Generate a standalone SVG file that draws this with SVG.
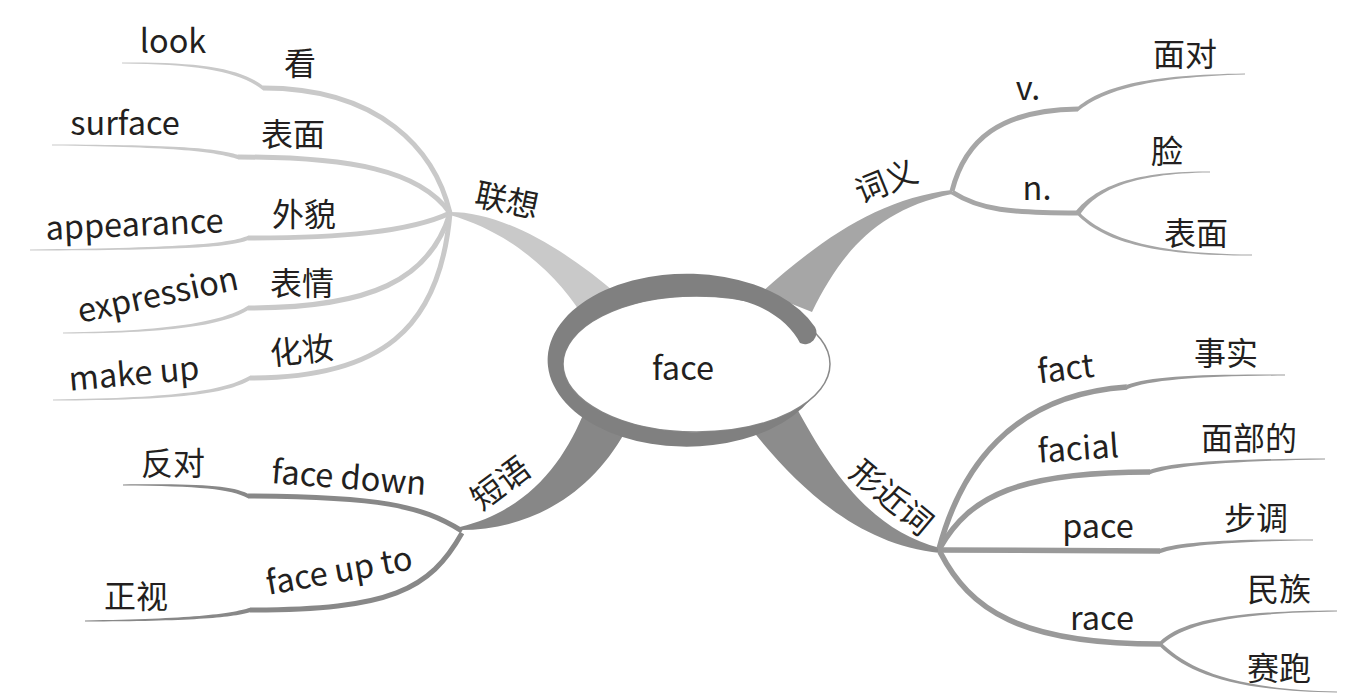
<svg xmlns="http://www.w3.org/2000/svg" width="1356" height="698" viewBox="0 0 1356 698">
<style>
text{font-family:"Noto Sans CJK SC","Noto Sans",sans-serif;fill:#231f20;text-anchor:middle}
.en{font-size:32.5px}
.zh{font-size:32px}
.l1{fill:none;stroke:#c9c9c9;stroke-width:5}
.f1{fill:#c9c9c9}
.l2{fill:none;stroke:#a6a6a6;stroke-width:5}
.f2{fill:#a6a6a6}
.l3{fill:none;stroke:#999;stroke-width:5.5}
.f3{fill:#999}
.l4{fill:none;stroke:#888;stroke-width:5}
.f4{fill:#888}
</style>
<rect width="1356" height="698" fill="#fff"/>
<g id="connectors">
  <path class="f1" d="M450,212 C500,212 560,245 618,295 L585,320 C565,285 520,235 450,215 Z"/>
  <path class="f2" d="M952,190 C880,198 820,240 762,292 L812,312 C840,255 875,210 952,194 Z"/>
  <path fill="#8c8c8c" d="M795,405 C830,470 870,530 940,548 L940,553 C860,545 800,490 752,430 Z"/>
  <path fill="#878787" d="M460,530 C530,530 590,495 625,432 L585,410 C565,460 530,510 460,527 Z"/>
  <path class="l1" d="M450,213 C435,150 380,88 263,88"/>
  <path class="f1" d="M263,85.8 C240,68.2 200,61.9 122,62.5 L122,63.5 C200,64.1 240,71.8 263,90.2 Z"/>
  <path class="l1" d="M450,213 C420,170 350,157 238,157"/>
  <path class="f1" d="M238,154.8 C215,148.2 180,144.9 52,144.5 L52,145.5 C180,147.1 215,151.8 238,159.2 Z"/>
  <path class="l1" d="M450,213 C410,232 340,238 248,238"/>
  <path class="f1" d="M248,235.8 C230,243.2 190,247.9 30,249.5 L30,250.5 C190,250.1 230,246.8 248,240.2 Z"/>
  <path class="l1" d="M450,213 C430,280 370,308 248,308"/>
  <path class="f1" d="M248,305.8 C225,320.2 180,330.9 63,332.5 L63,333.5 C180,333.1 225,323.8 248,310.2 Z"/>
  <path class="l1" d="M450,213 C440,330 380,378 250,378"/>
  <path class="f1" d="M250,375.8 C225,390.2 180,397.9 53,399.5 L53,400.5 C180,400.1 225,393.8 250,380.2 Z"/>
  <path class="l2" d="M952,191 C965,140 1000,110 1078,109"/>
  <path class="f2" d="M1078,106.8 C1105,85.2 1150,74.9 1245,73.5 L1245,74.5 C1150,77.1 1105,89.8 1078,111.2 Z"/>
  <path class="l2" d="M952,192 C980,210 1010,213 1078,213"/>
  <path class="f2" d="M1076,211 C1095,188.2 1130,170.9 1210,171.5 L1210,172.5 C1130,173.1 1095,191.8 1080,215 Z"/>
  <path class="f2" d="M1078,211 C1100,233.2 1140,253.9 1252,254.5 L1252,255.5 C1140,256.1 1100,236.8 1078,215.5 Z"/>
  <path class="l3" d="M939,549 C960,470 1010,395 1127,387"/>
  <path class="f3" d="M1127,384.8 C1150,376.2 1200,373.9 1285,374.5 L1285,375.5 C1200,376.1 1150,379.8 1127,389.2 Z"/>
  <path class="l3" d="M940,548 C970,495 1020,472 1150,472"/>
  <path class="f3" d="M1150,469.8 C1170,463.2 1220,458.9 1325,458.5 L1325,459.5 C1220,461.1 1170,466.8 1150,474.2 Z"/>
  <path class="l3" d="M938,550 L1160,551"/>
  <path class="f3" d="M1160,548.8 C1180,542.2 1230,538.9 1313,539.5 L1313,540.5 C1230,541.1 1180,545.8 1160,553.2 Z"/>
  <path class="l3" d="M940,552 C970,610 1020,644 1160,644"/>
  <path class="f3" d="M1160,641.5 C1180,623 1220,610.9 1337,610.5 L1337,611.5 C1220,613.1 1180,627 1160,646.5 Z"/>
  <path class="f3" d="M1160,641.5 C1185,666 1225,688.9 1337,691.5 L1337,692.5 C1225,691.1 1185,670 1160,646.5 Z"/>
  <path class="l4" d="M462,531 C420,505 380,497 248,496"/>
  <path class="f4" d="M248,493.8 C230,485.2 200,483.9 123,484.5 L123,485.5 C200,486.1 230,488.8 248,498.2 Z"/>
  <path class="l4" d="M462,533 C430,590 390,610 250,610"/>
  <path class="f4" d="M250,607.8 C230,614.2 190,618.9 85,620.5 L85,621.5 C190,621.1 230,617.8 250,612.2 Z"/>
</g>
<g id="center">
  <ellipse cx="696.5" cy="364" rx="133.5" ry="68" fill="#fff" stroke="#8a8a8a" stroke-width="1.5"/>
  <path fill="#808080" d="M815,327 A139,86.5 0 1,0 810,400 A133.5,68 0 1,1 723,297.5 C760,300 790,322 800,343 A11.5,11.5 0 0,0 815,327 Z"/>
  <text class="en" x="683" y="380">face</text>
</g>
<g id="lianxiang"><text class="zh" transform="translate(507,200) rotate(12)" y="12">联想</text></g>
<g id="ciyi"><text class="zh" transform="translate(886,181) rotate(-22)" y="12">词义</text></g>
<g id="xingjinci"><text class="zh" transform="translate(892,497) rotate(40)" y="12">形近词</text></g>
<g id="duanyu"><text class="zh" transform="translate(500,483) rotate(-37)" y="12">短语</text></g>
<g id="kan"><text class="zh" x="300" y="75">看</text></g>
<g id="look"><text class="en" x="173" y="53">look</text></g>
<g id="biaomian1"><text class="zh" x="293" y="146">表面</text></g>
<g id="surface"><text class="en" x="125" y="135">surface</text></g>
<g id="waimao"><text class="zh" x="304" y="226">外貌</text></g>
<g id="appearance"><text class="en" transform="translate(135,236) rotate(-2.5)">appearance</text></g>
<g id="biaoqing"><text class="zh" x="302" y="295">表情</text></g>
<g id="expression"><text class="en" transform="translate(160,306) rotate(-12)">expression</text></g>
<g id="huazhuang"><text class="zh" transform="translate(303,362) rotate(-6)">化妆</text></g>
<g id="makeup"><text class="en" transform="translate(135,385) rotate(-5)">make up</text></g>
<g id="v"><text class="en" x="1028" y="100">v.</text></g>
<g id="miandui"><text class="zh" x="1185" y="66">面对</text></g>
<g id="n"><text class="en" x="1037" y="200">n.</text></g>
<g id="lian"><text class="zh" x="1167" y="163">脸</text></g>
<g id="biaomian2"><text class="zh" x="1196" y="245">表面</text></g>
<g id="fact"><text class="en" transform="translate(1067,380) rotate(-7)">fact</text></g>
<g id="shishi"><text class="zh" x="1226" y="365">事实</text></g>
<g id="facial"><text class="en" transform="translate(1079,460) rotate(-4)">facial</text></g>
<g id="mianbude"><text class="zh" x="1249" y="450">面部的</text></g>
<g id="pace"><text class="en" x="1098" y="538">pace</text></g>
<g id="budiao"><text class="zh" x="1256" y="530">步调</text></g>
<g id="race"><text class="en" x="1102" y="630">race</text></g>
<g id="minzu"><text class="zh" x="1279" y="601">民族</text></g>
<g id="saipao"><text class="zh" x="1279" y="680">赛跑</text></g>
<g id="facedown"><text class="en" transform="translate(348,489) rotate(4.5)">face down</text></g>
<g id="fandui"><text class="zh" x="173" y="475">反对</text></g>
<g id="faceupto"><text class="en" transform="translate(341,582) rotate(-10)">face up to</text></g>
<g id="zhengshi"><text class="zh" x="136" y="608">正视</text></g>
</svg>
